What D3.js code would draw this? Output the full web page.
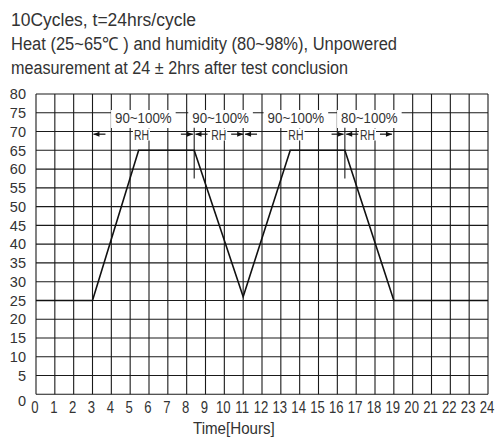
<!DOCTYPE html>
<html>
<head>
<meta charset="utf-8">
<script src="https://d3js.org/d3.v7.min.js"></script>
<style>
  html, body { margin: 0; padding: 0; background: #fff; }
  svg { display: block; }
</style>
</head>
<body>
<script>
// curve: temperature vs time over one cycle
const times = [0, 3, 5.45, 8.4, 11, 13.5, 16.4, 19, 24];
const temps = [25, 25, 65, 65, 26, 65, 65, 25, 25];

const xTicks = d3.range(0, 25, 1);
const yTicks = d3.range(0, 81, 5);

// humidity annotations
const rhLabels = ['90~100%', '90~100%', '90~100%', '80~100%'];
const rhLabelX = [5.7, 9.8, 13.8, 17.7];
const rhTextX = [5.6, 9.7, 13.8, 17.6];
const rhStart = [3.05, 8.47, 11.1, 16.47];
const rhEnd = [8.33, 11.0, 16.33, 18.9];
const markerX = [8.4, 16.4];

const titleLines = [
    '10Cycles, t=24hrs/cycle',
    'Heat (25~65℃ ) and humidity (80~98%), Unpowered',
    'measurement at 24 ± 2hrs after test conclusion'
];
const titleWidths = [185, 386, 337];

const width = 501, height = 438;
const plotLeft = 36, plotRight = 488, plotTop = 94, plotBottom = 394.3;
const font = '"Liberation Sans", Arial, sans-serif';

const svg = d3.select('body').append('svg')
    .attr('width', width)
    .attr('height', height);

const x = d3.scaleLinear().domain([0, 24]).range([plotLeft, plotRight]);
const y = d3.scaleLinear().domain([0, 80]).range([plotBottom, plotTop]);

// the original uses a condensed face, so squeeze the text horizontally
function narrowText(parent, str, px, py, size, sx, anchor) {
    return parent.append('text')
        .attr('transform', `translate(${px},${py}) scale(${sx},1)`)
        .attr('text-anchor', anchor || 'start')
        .attr('font-size', size)
        .text(str);
}

// title
const title = svg.append('g')
    .attr('font-family', font)
    .attr('font-size', 18)
    .attr('fill', '#333');

titleLines.forEach((t, i) => {
    title.append('text')
        .attr('x', 11)
        .attr('y', 26 + i * 23.8)
        .attr('textLength', titleWidths[i])
        .attr('lengthAdjust', 'spacingAndGlyphs')
        .text(t);
});

// grid
const grid = svg.append('g')
    .attr('stroke', '#1a1a1a')
    .attr('stroke-width', 1.1);

grid.selectAll('.vline')
    .data(xTicks)
    .enter().append('line')
    .attr('class', 'vline')
    .attr('x1', d => x(d)).attr('x2', d => x(d))
    .attr('y1', y(80)).attr('y2', y(0));

grid.selectAll('.hline')
    .data(yTicks)
    .enter().append('line')
    .attr('class', 'hline')
    .attr('x1', x(0)).attr('x2', x(24))
    .attr('y1', d => y(d)).attr('y2', d => y(d));

// axis labels
const labels = svg.append('g')
    .attr('font-family', font)
    .attr('fill', '#333');

yTicks.forEach(d => {
    narrowText(labels, d, 26, y(d) + (d === 0 ? 12 : 5.2), 14.5, 1, 'end');
});

xTicks.forEach(d => {
    narrowText(labels, d, x(d) - 1, 413, 16, 0.82, 'middle');
});

narrowText(labels, 'Time[Hours]', 193, 434, 17, 0.89, 'start');

// humidity labels with white boxes that cut the grid
const ann = svg.append('g')
    .attr('font-family', font)
    .attr('fill', '#333');

rhLabels.forEach((lab, i) => {
    const cx = x(rhLabelX[i]);
    const t = narrowText(ann, lab, cx, 123.4, 14.8, 0.9, 'middle');
    const w = t.node().getBBox().width * 0.9;
    ann.insert('rect', 'text')
        .attr('x', cx - w / 2 - 4).attr('y', 110)
        .attr('width', w + 8).attr('height', 18)
        .attr('fill', '#fff');

    const rx = x(rhTextX[i]);
    const r = narrowText(ann, 'RH', rx, 140, 14.5, 0.72, 'middle');
    const rw = r.node().getBBox().width * 0.72;
    ann.insert('rect', 'text')
        .attr('x', rx - rw / 2 - 1).attr('y', 128.5)
        .attr('width', rw + 2).attr('height', 12)
        .attr('fill', '#fff');
});

// marker lines at the end of each plateau
svg.selectAll('.marker')
    .data(markerX)
    .enter().append('line')
    .attr('class', 'marker')
    .attr('x1', d => x(d)).attr('x2', d => x(d))
    .attr('y1', y(71)).attr('y2', y(57.5))
    .attr('stroke', '#1a1a1a')
    .attr('stroke-width', 1.1);

// arrows
function arrow(tipX, dir) {
    const yy = y(69.3);
    const len = 12;
    svg.append('line')
        .attr('x1', tipX).attr('x2', tipX - dir * len)
        .attr('y1', yy).attr('y2', yy)
        .attr('stroke', '#111').attr('stroke-width', 1.2);
    svg.append('path')
        .attr('d', `M${tipX},${yy} L${tipX - dir * 6},${yy - 2.5} L${tipX - dir * 6},${yy + 2.5}Z`)
        .attr('fill', '#111');
}
rhStart.forEach(d => arrow(x(d), -1));
rhEnd.forEach(d => arrow(x(d), 1));

// temperature curve
const line = d3.line()
    .x(d => x(d[0]))
    .y(d => y(d[1]));

svg.append('path')
    .datum(times.map((t, i) => [t, temps[i]]))
    .attr('d', line)
    .attr('fill', 'none')
    .attr('stroke', '#111')
    .attr('stroke-width', 1.6);
</script>
</body>
</html>
